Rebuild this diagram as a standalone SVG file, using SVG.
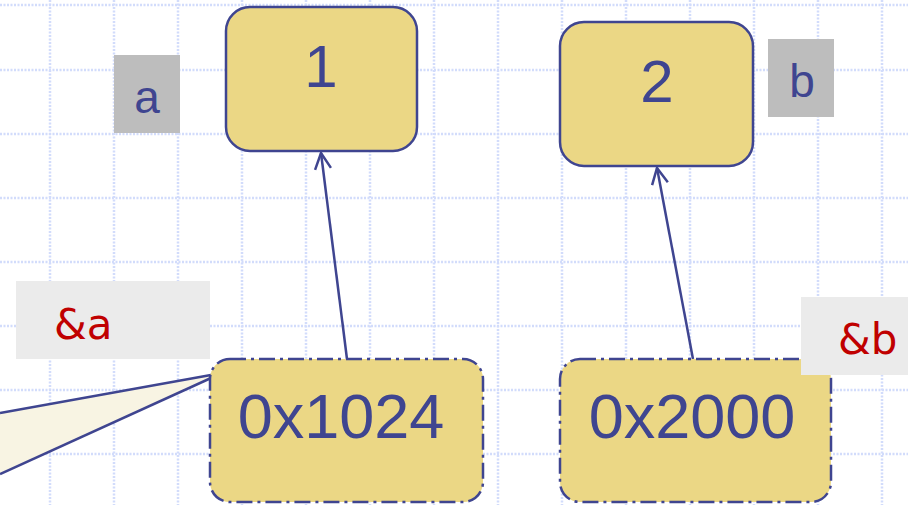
<svg xmlns="http://www.w3.org/2000/svg" width="908" height="505" viewBox="0 0 908 505">
  <defs>
    <style>
      .grid line { stroke: #d2dcfb; stroke-width: 2.5; stroke-dasharray: 2 1.5; }
      .val { fill: #ebd785; stroke: #3f4590; stroke-width: 2.5; }
      .addr { fill: #ebd785; stroke: #3f4590; stroke-width: 2.5; stroke-dasharray: 16 5 3 5; }
      .big { font-family: "Liberation Sans", Arial, sans-serif; fill: #3f4590; text-anchor: middle; }
      .name { fill: #bdbdbd; }
      .ref { fill: #ebebeb; }
      .reft { font-family: "DejaVu Sans", "Liberation Sans", sans-serif; fill: #c00000; font-size: 42px; }
      .conn line { stroke: #3f4590; stroke-width: 2.5; }
    </style>
    <marker id="arr" viewBox="0 0 20 20" refX="18" refY="10" markerWidth="20" markerHeight="20" markerUnits="userSpaceOnUse" orient="auto">
      <path d="M2 2 L18 10 L2 18" fill="none" stroke="#3f4590" stroke-width="2.5"/>
    </marker>
  </defs>

  <rect width="908" height="505" fill="#ffffff"/>

  <!-- background grid -->
  <g class="grid">
    <line x1="50" y1="0" x2="50" y2="505"/>
    <line x1="114" y1="0" x2="114" y2="505"/>
    <line x1="178" y1="0" x2="178" y2="505"/>
    <line x1="242" y1="0" x2="242" y2="505"/>
    <line x1="306" y1="0" x2="306" y2="505"/>
    <line x1="370" y1="0" x2="370" y2="505"/>
    <line x1="434" y1="0" x2="434" y2="505"/>
    <line x1="498" y1="0" x2="498" y2="505"/>
    <line x1="562" y1="0" x2="562" y2="505"/>
    <line x1="626" y1="0" x2="626" y2="505"/>
    <line x1="690" y1="0" x2="690" y2="505"/>
    <line x1="754" y1="0" x2="754" y2="505"/>
    <line x1="818" y1="0" x2="818" y2="505"/>
    <line x1="882" y1="0" x2="882" y2="505"/>
    <line x1="0" y1="5" x2="908" y2="5"/>
    <line x1="0" y1="70" x2="908" y2="70"/>
    <line x1="0" y1="134" x2="908" y2="134"/>
    <line x1="0" y1="198" x2="908" y2="198"/>
    <line x1="0" y1="262" x2="908" y2="262"/>
    <line x1="0" y1="326" x2="908" y2="326"/>
    <line x1="0" y1="390" x2="908" y2="390"/>
    <line x1="0" y1="454" x2="908" y2="454"/>
  </g>

  <!-- pointer wedge from the left -->
  <g id="pointer-wedge">
    <polygon points="0,413 222,373 0,474" fill="#f8f4e3"/>
    <line x1="0" y1="413" x2="222" y2="373" stroke="#3f4590" stroke-width="2.5"/>
    <line x1="0" y1="474" x2="222" y2="373" stroke="#3f4590" stroke-width="2.5"/>
  </g>

  <!-- connectors -->
  <g class="conn">
    <line x1="347" y1="359" x2="321" y2="153" marker-end="url(#arr)"/>
    <line x1="693" y1="359" x2="657" y2="168" marker-end="url(#arr)"/>
  </g>

  <g id="val-a">
    <rect class="val" x="226" y="7" width="191" height="144" rx="24"/>
    <text class="big" x="321" y="87" font-size="60">1</text>
  </g>

  <g id="val-b">
    <rect class="val" x="560" y="22" width="193" height="144" rx="24"/>
    <text class="big" x="657" y="102" font-size="60">2</text>
  </g>

  <g id="name-a">
    <rect class="name" x="114" y="55" width="66" height="78"/>
    <text class="big" x="147" y="113" font-size="46">a</text>
  </g>

  <g id="name-b">
    <rect class="name" x="768" y="39" width="66" height="78"/>
    <text class="big" x="802" y="97" font-size="46">b</text>
  </g>

  <g id="ref-a">
    <rect class="ref" x="16" y="281" width="194" height="78"/>
    <text class="reft" x="54" y="339">&amp;a</text>
  </g>

  <g id="addr-a">
    <rect class="addr" x="210" y="359" width="273" height="143" rx="20"/>
    <text class="big" x="341" y="438" font-size="63">0x1024</text>
  </g>

  <g id="addr-b">
    <rect class="addr" x="560" y="359" width="271" height="143" rx="20"/>
    <text class="big" x="692" y="438" font-size="63">0x2000</text>
  </g>

  <g id="ref-b">
    <rect class="ref" x="801" y="297" width="110" height="78"/>
    <text class="reft" x="838" y="354">&amp;b</text>
  </g>
</svg>
